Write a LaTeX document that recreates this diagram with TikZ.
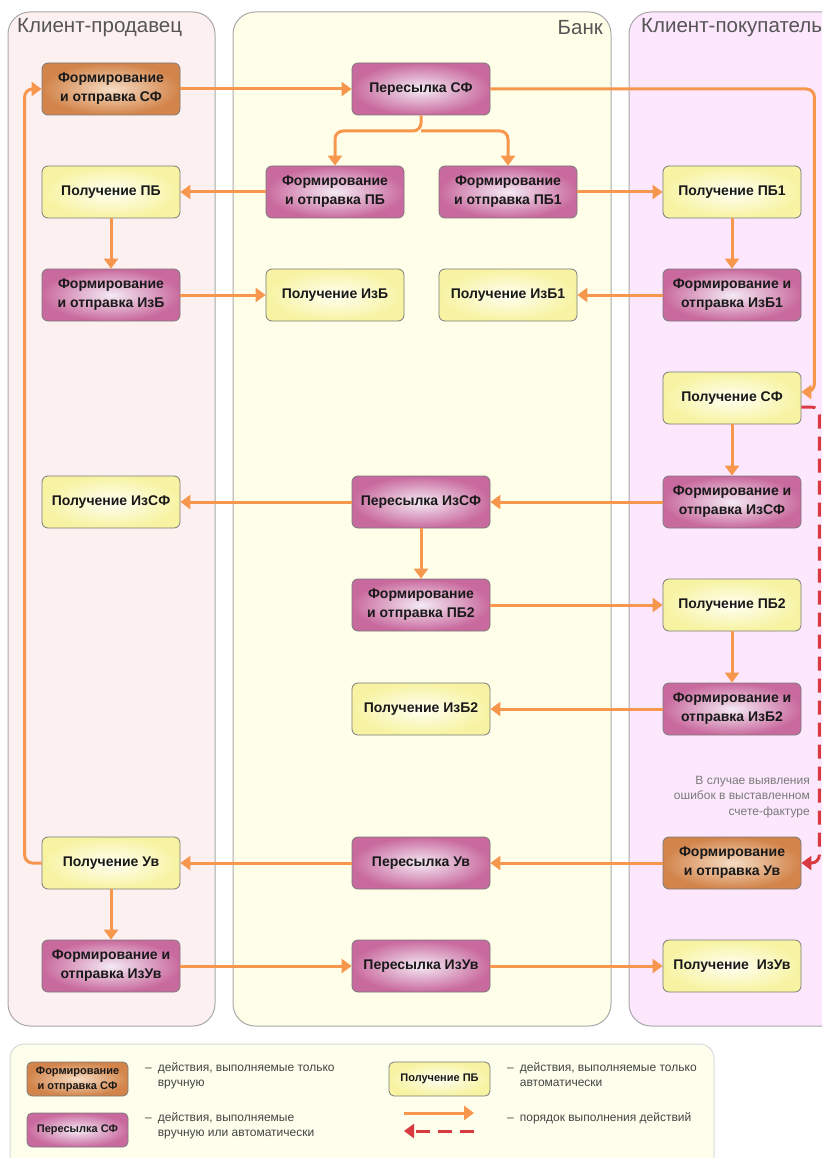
\documentclass[tikz,border=0pt]{standalone}
\usepackage{fontspec}
\setmainfont{Liberation Sans}
\usetikzlibrary{arrows.meta,calc}
\definecolor{laneL}{HTML}{FDF0F0}
\definecolor{laneB}{HTML}{FEFEE9}
\definecolor{laneR}{HTML}{FCE7FC}
\definecolor{laneEdge}{HTML}{A8A8A8}
\definecolor{orIn}{HTML}{F6DCC4}
\definecolor{orOut}{HTML}{D2844A}
\definecolor{puIn}{HTML}{F4EAF4}
\definecolor{puOut}{HTML}{C96A9E}
\definecolor{yeIn}{HTML}{FFFFF2}
\definecolor{yeOut}{HTML}{F7F3A2}
\definecolor{nodeEdge}{HTML}{7A7A7A}
\definecolor{flowC}{HTML}{F7964D}
\definecolor{redC}{HTML}{D93A42}
\definecolor{headC}{HTML}{555555}
\definecolor{noteC}{HTML}{7A7A7A}
\definecolor{legC}{HTML}{444444}
\definecolor{legFill}{HTML}{FEFEEC}
\tikzset{
  lane/.style={draw=laneEdge, line width=1pt, rounded corners=22pt},
  head/.style={inner sep=0pt, text=headC, font=\fontsize{20.5}{24}\selectfont},
  box/.style={draw=nodeEdge, line width=0.8pt, rounded corners=6pt, minimum width=138pt, minimum height=52pt, inner sep=0pt, align=center, text=black!90, font=\fontsize{14}{19}\selectfont\bfseries},
  manual/.style={box, inner color=orIn, outer color=orOut},
  mixed/.style={box, inner color=puIn, outer color=puOut},
  auto/.style={box, inner color=yeIn, outer color=yeOut},
  small/.style={minimum width=101pt, minimum height=34pt, rounded corners=5pt, font=\fontsize{11}{15}\selectfont\bfseries},
  flow/.style={draw=flowC, line width=3pt, rounded corners=8pt, -{Triangle[length=10pt,width=14pt]}},
  redflow/.style={draw=redC, line width=3pt, rounded corners=8pt, dash pattern=on 14pt off 8pt, -{Triangle[length=10pt,width=14pt]}},
  legtext/.style={inner sep=0pt, anchor=north west, text=legC, font=\fontsize{12}{15}\selectfont}
}
\begin{document}
\begin{tikzpicture}[x=1pt,y=-1pt]
\useasboundingbox (0,0) rectangle (822,1158);
\clip (0,0) rectangle (822,1158);
% lanes
\draw[lane, fill=laneL] (8,12) rectangle (215,1026);
\draw[lane, fill=laneB] (233,12) rectangle (611,1026);
\draw[lane, fill=laneR] (629,12) rectangle (880,1026);
\node[head, anchor=west] (hL) at (17,28) {Клиент-продавец};
\node[head, anchor=east] (hB) at (603,28) {Банк};
\node[head, anchor=west] (hR) at (641,28) {Клиент-покупатель};
% left column
\node[manual] (sfL) at (111,89) {Формирование\\и отправка СФ};
\node[auto] (pPB) at (111,192) {Получение ПБ};
\node[mixed] (fIzB) at (111,295) {Формирование\\и отправка ИзБ};
\node[auto] (pIzSF) at (111,502) {Получение ИзСФ};
\node[auto] (pUv) at (111,863) {Получение Ув};
\node[mixed] (fIzUv) at (111,966) {Формирование и\\отправка ИзУв};
% bank
\node[mixed] (sfB) at (421,89) {Пересылка СФ};
\node[mixed] (fPB) at (335,192) {Формирование\\и отправка ПБ};
\node[mixed] (fPB1) at (508,192) {Формирование\\и отправка ПБ1};
\node[auto] (pIzB) at (335,295) {Получение ИзБ};
\node[auto] (pIzB1) at (508,295) {Получение ИзБ1};
\node[mixed] (sIzSF) at (421,502) {Пересылка ИзСФ};
\node[mixed] (fPB2) at (421,605) {Формирование\\и отправка ПБ2};
\node[auto] (pIzB2) at (421,709) {Получение ИзБ2};
\node[mixed] (sUv) at (421,863) {Пересылка Ув};
\node[mixed] (sIzUv) at (421,966) {Пересылка ИзУв};
% right column
\node[auto] (pPB1) at (732,192) {Получение ПБ1};
\node[mixed] (fIzB1) at (732,295) {Формирование и\\отправка ИзБ1};
\node[auto] (pSF) at (732,398) {Получение СФ};
\node[mixed] (fIzSF) at (732,502) {Формирование и\\отправка ИзСФ};
\node[auto] (pPB2) at (732,605) {Получение ПБ2};
\node[mixed] (fIzB2) at (732,709) {Формирование и\\отправка ИзБ2};
\node[manual] (fUv) at (732,863) {Формирование\\и отправка Ув};
\node[auto] (pIzUv) at (732,966) {Получение\ \ ИзУв};
% note
\node[inner sep=0pt, anchor=north east, align=right, text=noteC, font=\fontsize{12}{15.5}\selectfont] (note) at (810,776) {В случае выявления\\ошибок в выставленном\\счете-фактуре};
% connectors
\draw[flow] (sfL) -- (sfB);
\draw[flow] (sfB.east) -| ($(pSF.east)+(13,-6)$) -- ($(pSF.east)+(0,-6)$);
\coordinate (split) at (421,131);
\draw[flow] (sfB.south) -- (split) -| (fPB.north);
\draw[flow] (split) -| (fPB1.north);
\draw[flow] (fPB) -- (pPB);
\draw[flow] (fPB1) -- (pPB1);
\draw[flow] (pPB) -- (fIzB);
\draw[flow] (fIzB) -- (pIzB);
\draw[flow] (pPB1) -- (fIzB1);
\draw[flow] (fIzB1) -- (pIzB1);
\draw[flow] (pSF) -- (fIzSF);
\draw[flow] (fIzSF) -- (sIzSF);
\draw[flow] (sIzSF) -- (pIzSF);
\draw[flow] (sIzSF) -- (fPB2);
\draw[flow] (fPB2) -- (pPB2);
\draw[flow] (pPB2) -- (fIzB2);
\draw[flow] (fIzB2) -- (pIzB2);
\draw[flow] (fUv) -- (sUv);
\draw[flow] (sUv) -- (pUv);
\draw[flow] (pUv.west) -- ++(-17,0) |- (sfL.west);
\draw[flow] (pUv) -- (fIzUv);
\draw[flow] (fIzUv) -- (sIzUv);
\draw[flow] (sIzUv) -- (pIzUv);
\draw[redflow] ($(pSF.east)+(0,9)$) -| ($(fUv.east)+(18,0)$) -- (fUv.east);
% legend
\draw[draw=black!15, line width=1pt, fill=legFill, rounded corners=14pt] (10,1044) rectangle (714,1180);
\node[manual, small] (lgM) at (77.5,1079) {Формирование\\и отправка СФ};
\node[mixed, small] (lgX) at (77.5,1130) {Пересылка СФ};
\node[auto, small] (lgA) at (439.5,1079) {Получение ПБ};
\coordinate (la1) at (404,1113);
\coordinate (la2) at (474,1113);
\coordinate (lb1) at (474,1131);
\coordinate (lb2) at (404,1131);
\draw[flow] (la1) -- (la2);
\draw[redflow] (lb1) -- (lb2);
\node[legtext] (t1) at (145,1061) {\begin{tabular}{@{}l@{\hspace{6pt}}l@{}}–&действия, выполняемые только\\&вручную\end{tabular}};
\node[legtext] (t2) at (145,1111) {\begin{tabular}{@{}l@{\hspace{6pt}}l@{}}–&действия, выполняемые\\&вручную или автоматически\end{tabular}};
\node[legtext] (t3) at (507,1061) {\begin{tabular}{@{}l@{\hspace{6pt}}l@{}}–&действия, выполняемые только\\&автоматически\end{tabular}};
\node[legtext] (t4) at (507,1111) {\begin{tabular}{@{}l@{\hspace{6pt}}l@{}}–&порядок выполнения действий\end{tabular}};
\end{tikzpicture}
\end{document}
